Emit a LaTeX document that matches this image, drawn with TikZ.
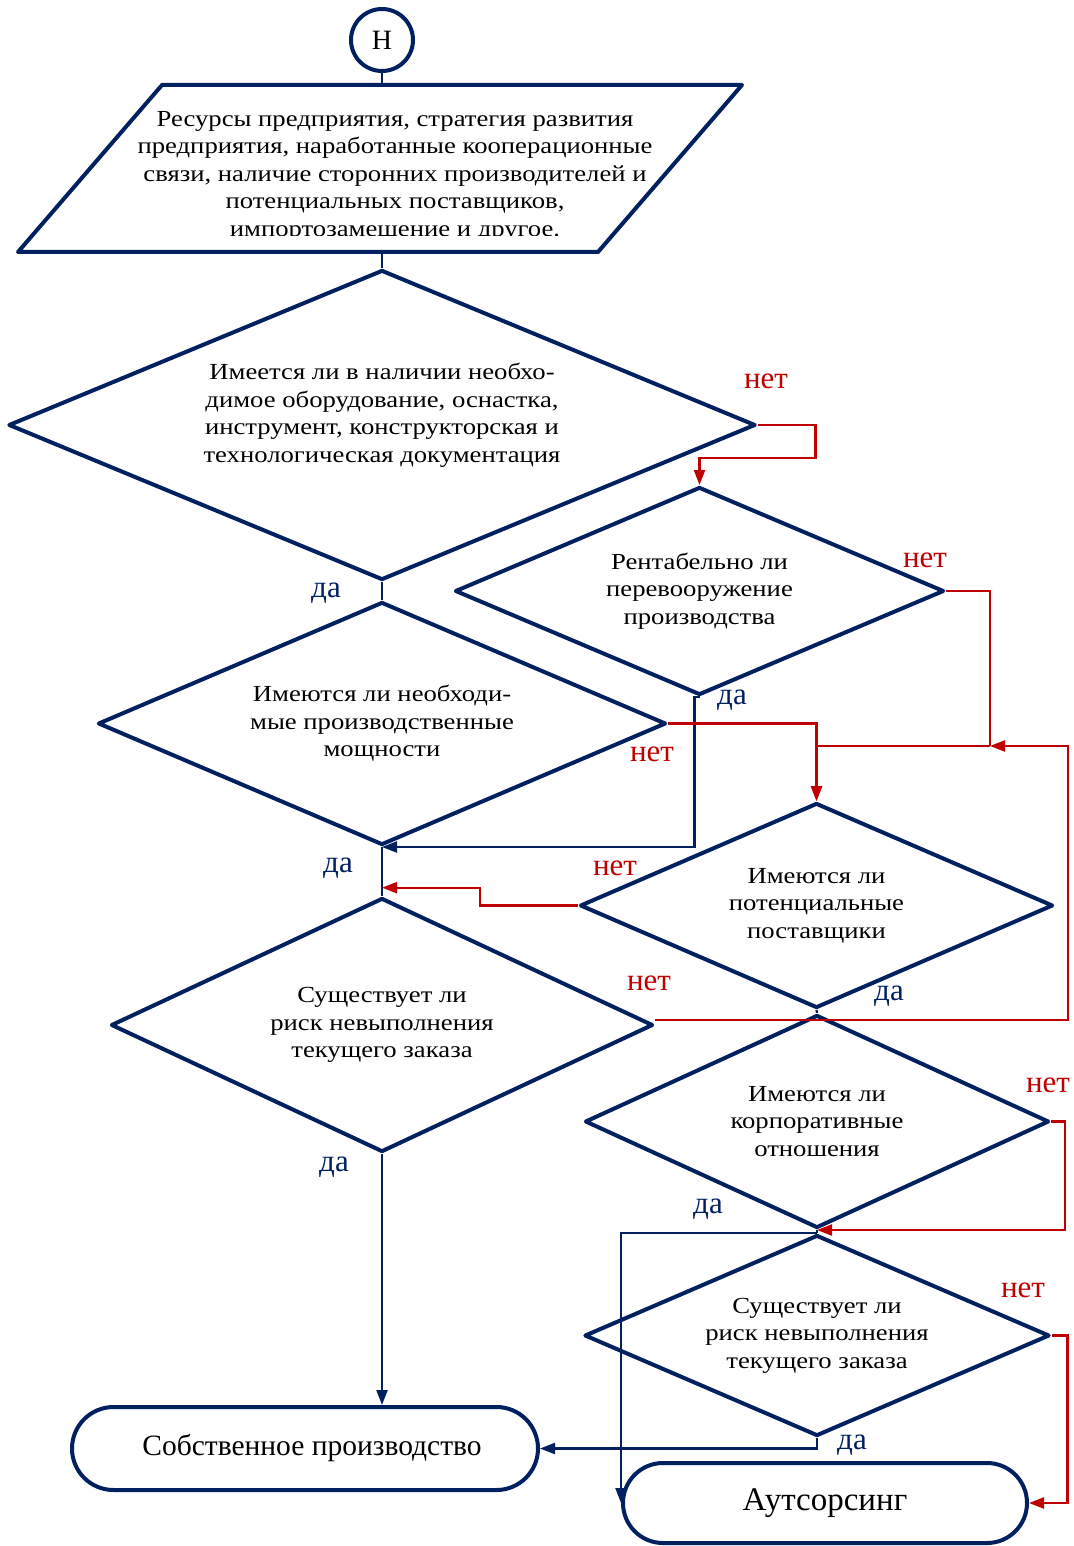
\documentclass[tikz,border=0pt]{standalone}
\usepackage{fontspec}
\setmainfont{Liberation Serif}
\newfontfamily\widefont[FakeStretch=1.16]{Liberation Serif}
\usetikzlibrary{shapes.geometric,shapes.misc,arrows.meta,calc}

\definecolor{navy}{RGB}{0,32,96}
\definecolor{darkred}{RGB}{192,0,0}

\begin{document}
\begin{tikzpicture}[x=1pt,y=-1pt,
  rim/.style={draw=navy,line width=4pt,line join=round},
  txt/.style={inner sep=0pt,align=center,font=\widefont\fontsize{23}{27.5}\selectfont},
  box/.style={rim,txt},
  ask/.style={box,diamond,aspect=2.4},
  term/.style={rim,rounded rectangle,inner sep=0pt},
  yesline/.style={navy,line width=2.2pt},
  noline/.style={darkred,line width=2.2pt},
  arr/.style={-{Triangle[length=15pt,width=11pt]}},
  yeslbl/.style={navy,inner sep=0pt,font=\fontsize{31}{31}\selectfont},
  nolbl/.style={darkred,inner sep=0pt,font=\fontsize{31}{31}\selectfont}]

\useasboundingbox (0,0) rectangle (1073,1546);

\node[rim,circle,minimum size=62pt,inner sep=0pt,font=\fontsize{28}{28}\selectfont] (start) at (382,40) {Н};

\coordinate (intop) at (382,85);
\coordinate (inbot) at (382,252);
\draw[rim] (18,252) -- (162,85) -- (742,85) -- (598,252) -- cycle;
\begin{scope}
\clip (0,85) rectangle (1073,236);
\node[txt] (inputtext) at (395,176)
  {Ресурсы предприятия, стратегия развития\\предприятия, наработанные кооперационные\\
   связи, наличие сторонних производителей и\\потенциальных поставщиков,\\
   импортозамещение и другое.};
\end{scope}

\node[ask,minimum width=747pt,minimum height=310pt] (q1) at (382,425) {};
\node[txt] (q1text) at (382,415)
  {Имеется ли в наличии необхо-\\димое оборудование, оснастка,\\инструмент, конструкторская и\\технологическая документация};
\node[ask,minimum width=489pt,minimum height=208pt] (q2) at (699.5,591)
  {Рентабельно ли\\перевооружение\\производства};
\node[ask,minimum width=568pt,minimum height=243pt] (q3) at (382,723.5)
  {Имеются ли необходи-\\мые производственные\\мощности};
\node[ask,minimum width=473pt,minimum height=205pt] (q4) at (816.5,905.5)
  {Имеются ли\\потенциальные\\поставщики};
\node[ask,minimum width=542pt,minimum height=254pt] (q5) at (382,1025)
  {Существует ли\\риск невыполнения\\текущего заказа};
\node[ask,minimum width=464pt,minimum height=213pt] (q6) at (817,1121.5)
  {Имеются ли\\корпоративные\\отношения};
\node[ask,minimum width=465pt,minimum height=201pt] (q7) at (817,1335.5)
  {Существует ли\\риск невыполнения\\текущего заказа};

\node[term,minimum width=466pt,minimum height=83pt,font=\fontsize{29.5}{29.5}\selectfont] (own) at (305,1448.5)
  {\hspace*{14pt}Собственное производство};
\node[term,minimum width=404pt,minimum height=80pt,font=\fontsize{33}{33}\selectfont] (out) at (825,1503)
  {Аутсорсинг};

\coordinate (j1) at (990,746);
\coordinate (rail) at (1068,746);

\draw[yesline] (start.south) -- (intop);
\draw[yesline] (inbot) -- (q1.north);
\draw[yesline] (q1.south) -- (q3.north);
\draw[yesline] (q3.south) -- (q5.north);
\draw[yesline,arr] (q5.south) -- (q5.south |- own.north);
\draw[yesline,arr] (q2.south) -- ++(-5,0) |- (q3.south);
\draw[yesline] (q4.south) -- (q6.north);
\draw[yesline] (q6.south) -- (q7.north);
\draw[yesline,arr] (q7.north) -| (out.west);
\draw[yesline,arr] (q7.south) |- (own.east);

\draw[noline,arr] (q1.east) -- ++(58,0) -- ++(0,33) -| (q2.north);
\draw[noline] (q2.east) -| (j1);
\draw[noline,arr] (j1) -| (q4.north);
\draw[noline,arr] (q3.east) -| (q4.north);
\draw[noline,arr] ($(q5.east)+(0,-5)$) -| (rail) -- (j1);
\draw[noline,arr] (q4.west) -- ++(-98,0) |- ($(q3.south)!0.83!(q5.north)$);
\draw[noline,arr] (q6.east) -- ++(14,0) |- (q6.south);
\draw[noline,arr] (q7.east) -- ++(16,0) |- (out.east);

\node[nolbl] (n1) at (766,381) {нет};
\node[yeslbl] (y1) at (326,593) {да};
\node[nolbl] (n2) at (925,560) {нет};
\node[yeslbl] (y2) at (732,700) {да};
\node[nolbl] (n3) at (652,754) {нет};
\node[yeslbl] (y3) at (338,868) {да};
\node[nolbl] (n4) at (615,868) {нет};
\node[yeslbl] (y4) at (889,996) {да};
\node[nolbl] (n5) at (649,983) {нет};
\node[yeslbl] (y5) at (334,1167) {да};
\node[nolbl] (n6) at (1048,1085) {нет};
\node[yeslbl] (y6) at (708,1209) {да};
\node[nolbl] (n7) at (1023,1290) {нет};
\node[yeslbl] (y7) at (852,1445) {да};

\end{tikzpicture}
\end{document}
